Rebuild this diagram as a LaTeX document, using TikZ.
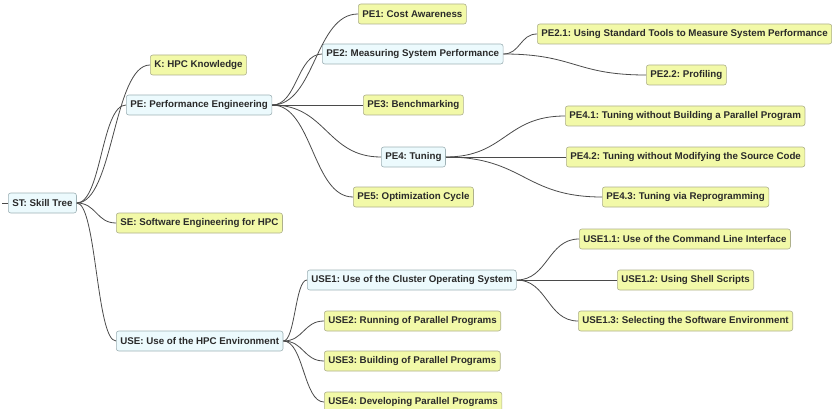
\documentclass[tikz,border=0pt]{standalone}
\usepackage{fontspec}
\setmainfont{Liberation Sans}
\usetikzlibrary{calc}
\frenchspacing
\definecolor{leaffill}{HTML}{F2F9A8}
\definecolor{leafdraw}{HTML}{AEB08C}
\definecolor{innerfill}{HTML}{ECFAFD}
\definecolor{innerdraw}{HTML}{9FB2B6}
\definecolor{linec}{HTML}{4A4A4A}
\definecolor{textc}{HTML}{2A2A2A}
\tikzset{
  box/.style={anchor=west, rounded corners=2.5pt, line width=0.6pt, inner xsep=4pt, inner ysep=0pt,
    minimum height=20pt, text=textc, font=\fontsize{9.75}{11}\selectfont\bfseries},
  leaf/.style={box, fill=leaffill, draw=leafdraw},
  inner/.style={box, fill=innerfill, draw=innerdraw},
  conn/.style={draw=linec, line width=0.8pt, to path={let \p1=(\tikztostart), \p2=(\tikztotarget), \n1={0.5*(\x2-\x1)} in .. controls (\x1+\n1,\y1) and (\x2-\n1,\y2) .. (\tikztotarget)}}
}
\begin{document}
\begin{tikzpicture}[x=1pt,y=-1pt]
\useasboundingbox (0,0) rectangle (832,409);
\node[inner] (ST) at (8,203) {ST: Skill Tree};
\coordinate (stub) at (2,203);
\node[leaf] (K) at (150,65) {K: HPC Knowledge};
\node[inner] (PE) at (126,105) {PE: Performance Engineering};
\node[leaf] (SE) at (116,223) {SE: Software Engineering for HPC};
\node[inner] (USE) at (116,341) {USE: Use of the HPC Environment};
\node[leaf] (PE1) at (358,14) {PE1: Cost Awareness};
\node[inner] (PE2) at (322,54) {PE2: Measuring System Performance};
\node[leaf] (PE3) at (363,105) {PE3: Benchmarking};
\node[inner] (PE4) at (381,157) {PE4: Tuning};
\node[leaf] (PE5) at (353,197) {PE5: Optimization Cycle};
\node[leaf] (PE21) at (537,34) {PE2.1: Using Standard Tools to Measure System Performance};
\node[leaf] (PE22) at (646,75) {PE2.2: Profiling};
\node[leaf] (PE41) at (565,116) {PE4.1: Tuning without Building a Parallel Program};
\node[leaf] (PE42) at (566,157) {PE4.2: Tuning without Modifying the Source Code};
\node[leaf] (PE43) at (602,197) {PE4.3: Tuning via Reprogramming};
\node[inner] (USE1) at (307,280) {USE1: Use of the Cluster Operating System};
\node[leaf] (USE2) at (324,321) {USE2: Running of Parallel Programs};
\node[leaf] (USE3) at (324,361) {USE3: Building of Parallel Programs};
\node[leaf] (USE4) at (324,402) {USE4: Developing Parallel Programs};
\node[leaf] (USE11) at (579,239) {USE1.1: Use of the Command Line Interface};
\node[leaf] (USE12) at (617,280) {USE1.2: Using Shell Scripts};
\node[leaf] (USE13) at (578,321) {USE1.3: Selecting the Software Environment};
\draw[linec, line width=0.8pt] (stub) -- (ST.west);
\foreach \a/\b in {ST/K, ST/PE, ST/SE, ST/USE,
  PE/PE1, PE/PE2, PE/PE3, PE/PE4, PE/PE5,
  PE2/PE21, PE2/PE22, PE4/PE41, PE4/PE42, PE4/PE43,
  USE/USE1, USE/USE2, USE/USE3, USE/USE4,
  USE1/USE11, USE1/USE12, USE1/USE13}
  \draw[conn] (\a.east) to (\b.west);
\end{tikzpicture}
\end{document}
